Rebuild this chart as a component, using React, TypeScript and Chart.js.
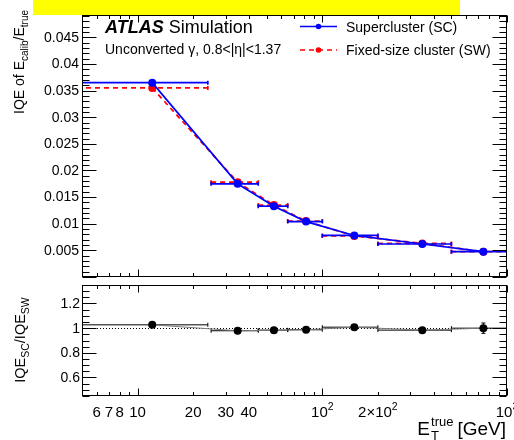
import React, { useEffect, useRef } from "react";
import { Chart, registerables } from "chart.js";

Chart.register(...registerables);

// ---- data ----
const binCenters = [12, 34.8, 54.7, 81.7, 149, 348, 745];
const binLow = [3, 25, 45, 65, 100, 200, 500];
const binHigh = [24, 45, 65, 100, 200, 500, 1000];
const iqeSC = [0.0365, 0.0175, 0.0133, 0.0104, 0.0078, 0.0062, 0.00475];
const iqeSW = [0.0355, 0.0178, 0.0135, 0.0105, 0.0077, 0.0063, 0.00475];
const ratio = [1.027, 0.979, 0.984, 0.987, 1.008, 0.984, 1.0];
const ratioErr = [0.004, 0.004, 0.004, 0.004, 0.005, 0.006, 0.042];

const topYTickValues = [0.005, 0.01, 0.015, 0.02, 0.025, 0.03, 0.035, 0.04, 0.045];
const topYTickLabels = ["0.005", "0.01", "0.015", "0.02", "0.025", "0.03", "0.035", "0.04", "0.045"];
const ratioYTickValues = [0.6, 0.8, 1, 1.2];
const ratioYTickLabels = ["0.6", "0.8", "1", "1.2"];
const xTickValues = [6, 7, 8, 10, 20, 30, 40, 100, 200, 1000];
const xTickBase = ["6", "7", "8", "10", "20", "30", "40", "10", "2\u00d710", "10"];
const xTickSup = ["", "", "", "", "", "", "", "2", "2", "3"];

const X_MIN = 5;
const X_MAX = 1000;
const TOP_Y_MIN = 0;
const TOP_Y_MAX = 0.0492;
const RATIO_Y_MIN = 0.45;
const RATIO_Y_MAX = 1.35;

const FONT = '"Liberation Sans", Arial, Helvetica, sans-serif';
const BLUE = "#0000ff";
const RED = "#ff0000";

type Seg = { t: string; size: number; dy?: number; bold?: boolean; italic?: boolean };

function fontOf(s: Seg) {
  return `${s.italic ? "italic " : ""}${s.bold ? "bold " : ""}${s.size}px ${FONT}`;
}

function segsWidth(ctx: CanvasRenderingContext2D, segs: Seg[]) {
  let w = 0;
  for (const s of segs) {
    ctx.font = fontOf(s);
    w += ctx.measureText(s.t).width;
  }
  return w;
}

function drawSegs(ctx: CanvasRenderingContext2D, segs: Seg[], x: number, y: number) {
  let cx = x;
  for (const s of segs) {
    ctx.font = fontOf(s);
    ctx.fillText(s.t, cx, y + (s.dy || 0));
    cx += ctx.measureText(s.t).width;
  }
}

function logTicks(min: number, max: number) {
  const out: { v: number; major: boolean }[] = [];
  for (let d = 0; d <= 3; d++) {
    for (let m = 1; m <= 9; m++) {
      const v = m * Math.pow(10, d);
      if (v >= min - 1e-9 && v <= max + 1e-9) out.push({ v, major: m === 1 });
    }
  }
  return out;
}

function linTicks(min: number, max: number, step: number, majorEvery: number) {
  const out: { v: number; major: boolean }[] = [];
  const n0 = Math.ceil(min / step - 1e-6);
  const n1 = Math.floor(max / step + 1e-6);
  for (let n = n0; n <= n1; n++) out.push({ v: n * step, major: n % majorEvery === 0 });
  return out;
}

function drawFrame(chart: any, yTicks: { v: number; major: boolean }[]) {
  const { ctx, chartArea: a, scales } = chart;
  const xs = scales.x;
  const ys = scales.y;
  const L = Math.round(a.left) + 0.5;
  const R = Math.round(a.right) - 0.5;
  const T = Math.round(a.top) + 0.5;
  const B = Math.round(a.bottom) - 0.5;
  ctx.save();
  ctx.strokeStyle = "#000";
  ctx.lineWidth = 1;
  ctx.setLineDash([]);
  ctx.strokeRect(L, T, R - L, B - T);
  ctx.beginPath();
  for (const t of logTicks(X_MIN, X_MAX)) {
    const px = Math.round(xs.getPixelForValue(t.v)) + 0.5;
    const len = t.major ? 7 : 3.5;
    ctx.moveTo(px, B);
    ctx.lineTo(px, B - len);
    ctx.moveTo(px, T);
    ctx.lineTo(px, T + len);
  }
  for (const t of yTicks) {
    const py = Math.round(ys.getPixelForValue(t.v)) + 0.5;
    const len = t.major ? 14 : 7;
    ctx.moveTo(L, py);
    ctx.lineTo(L + len, py);
    ctx.moveTo(R, py);
    ctx.lineTo(R - len, py);
  }
  ctx.stroke();
  ctx.restore();
}

function drawHorizontalErrors(
  chart: any,
  values: number[],
  color: string,
  dash: number[],
  vErr?: number[]
) {
  const { ctx, chartArea: a, scales } = chart;
  const xs = scales.x;
  const ys = scales.y;
  ctx.save();
  ctx.beginPath();
  ctx.rect(a.left, a.top, a.right - a.left, a.bottom - a.top);
  ctx.clip();
  ctx.strokeStyle = color;
  ctx.lineWidth = color === "#000" ? 1 : 1.7;
  for (let i = 0; i < values.length; i++) {
    const y = ys.getPixelForValue(values[i]);
    const x1 = xs.getPixelForValue(binLow[i]);
    const x2 = xs.getPixelForValue(binHigh[i]);
    ctx.setLineDash(dash);
    ctx.beginPath();
    ctx.moveTo(x1, y);
    ctx.lineTo(x2, y);
    ctx.stroke();
    ctx.setLineDash([]);
    ctx.beginPath();
    ctx.moveTo(x1, y - 2);
    ctx.lineTo(x1, y + 2);
    ctx.moveTo(x2, y - 2);
    ctx.lineTo(x2, y + 2);
    if (vErr) {
      const xc = xs.getPixelForValue(binCenters[i]);
      const yh = ys.getPixelForValue(values[i] + vErr[i]);
      const yl = ys.getPixelForValue(values[i] - vErr[i]);
      ctx.moveTo(xc, yh);
      ctx.lineTo(xc, yl);
      ctx.moveTo(xc - 2, yh);
      ctx.lineTo(xc + 2, yh);
      ctx.moveTo(xc - 2, yl);
      ctx.lineTo(xc + 2, yl);
    }
    ctx.stroke();
  }
  ctx.restore();
}

const topPlugin = {
  id: "topDecor",
  beforeDatasetDraw(chart: any, args: any) {
    if (args.index === 0) drawHorizontalErrors(chart, iqeSC, BLUE, []);
    else drawHorizontalErrors(chart, iqeSW, RED, [5, 4]);
  },
  afterDraw(chart: any) {
    const { ctx, scales } = chart;
    const ys = scales.y;
    drawFrame(chart, linTicks(TOP_Y_MIN, TOP_Y_MAX, 0.001, 5));
    ctx.save();
    ctx.fillStyle = "#000";
    // y tick labels
    ctx.font = `14px ${FONT}`;
    ctx.textAlign = "right";
    ctx.textBaseline = "middle";
    topYTickValues.forEach((v, i) => {
      ctx.fillText(topYTickLabels[i], 79, ys.getPixelForValue(v) + 0.5);
    });
    ctx.textAlign = "left";
    ctx.textBaseline = "alphabetic";

    // y title
    const title: Seg[] = [
      { t: "IQE of E", size: 14 },
      { t: "calib", size: 10, dy: 4 },
      { t: "/E", size: 14 },
      { t: "true", size: 10, dy: 4 },
    ];
    const tw = segsWidth(ctx, title);
    ctx.save();
    ctx.translate(24, 10 + tw);
    ctx.rotate(-Math.PI / 2);
    drawSegs(ctx, title, 0, 0);
    ctx.restore();

    // experiment label
    drawSegs(
      ctx,
      [
        { t: "ATLAS", size: 18, bold: true, italic: true },
        { t: " Simulation", size: 18 },
      ],
      105,
      33
    );
    ctx.font = `14px ${FONT}`;
    ctx.fillText("Unconverted \u03b3, 0.8<|\u03b7|<1.37", 105, 53.5);

    // legend
    const legend = [
      { label: "Supercluster (SC)", color: BLUE, dash: [] as number[], y: 26.5 },
      { label: "Fixed-size cluster (SW)", color: RED, dash: [5, 4], y: 50 },
    ];
    for (const e of legend) {
      ctx.strokeStyle = e.color;
      ctx.lineWidth = 1.7;
      ctx.setLineDash(e.dash);
      ctx.beginPath();
      ctx.moveTo(300, e.y);
      ctx.lineTo(337, e.y);
      ctx.stroke();
      ctx.setLineDash([]);
      ctx.fillStyle = e.color;
      ctx.beginPath();
      ctx.arc(318.5, e.y, 2.8, 0, Math.PI * 2);
      ctx.fill();
      ctx.fillStyle = "#000";
      ctx.font = `14px ${FONT}`;
      ctx.fillText(e.label, 346, e.y + 5);
    }
    ctx.restore();
  },
};

const bottomPlugin = {
  id: "bottomDecor",
  beforeDatasetsDraw(chart: any) {
    const { ctx, chartArea: a, scales } = chart;
    const y = Math.round(scales.y.getPixelForValue(1)) + 0.5;
    ctx.save();
    ctx.strokeStyle = "#000";
    ctx.lineWidth = 1;
    ctx.setLineDash([1, 2]);
    ctx.beginPath();
    ctx.moveTo(a.left, y);
    ctx.lineTo(a.right, y);
    ctx.stroke();
    ctx.restore();
  },
  beforeDatasetDraw(chart: any) {
    drawHorizontalErrors(chart, ratio, "#000", [], ratioErr);
  },
  afterDraw(chart: any) {
    const { ctx, chartArea: a, scales } = chart;
    const xs = scales.x;
    const ys = scales.y;
    drawFrame(chart, linTicks(RATIO_Y_MIN, RATIO_Y_MAX, 0.05, 4));
    ctx.save();
    ctx.fillStyle = "#000";
    ctx.font = `14px ${FONT}`;
    ctx.textAlign = "right";
    ctx.textBaseline = "middle";
    ratioYTickValues.forEach((v, i) => {
      ctx.fillText(ratioYTickLabels[i], 80, ys.getPixelForValue(v) + 0.5);
    });
    ctx.textAlign = "left";
    ctx.textBaseline = "alphabetic";

    // x tick labels
    const base = a.bottom + 20.5;
    xTickValues.forEach((v, i) => {
      const segs: Seg[] = [{ t: xTickBase[i], size: 15 }];
      if (xTickSup[i]) segs.push({ t: xTickSup[i], size: 10.5, dy: -7 });
      const w = segsWidth(ctx, segs);
      drawSegs(ctx, segs, xs.getPixelForValue(v) - w / 2, base);
    });

    // x title
    ctx.font = `19px ${FONT}`;
    const wUnit = ctx.measureText("[GeV]").width;
    ctx.font = `13px ${FONT}`;
    const wSup = ctx.measureText("true").width;
    ctx.font = `19px ${FONT}`;
    const wE = ctx.measureText("E").width;
    const xEnd = a.right - 1;
    const x0 = xEnd - wUnit - 5 - wSup - wE;
    const yb = 435 - 281;
    ctx.fillText("E", x0, yb);
    ctx.fillText("[GeV]", xEnd - wUnit, yb);
    ctx.font = `13px ${FONT}`;
    ctx.fillText("true", x0 + wE + 1, yb - 9);
    ctx.fillText("T", x0 + wE + 1, yb + 5);

    // y title
    const title: Seg[] = [
      { t: "IQE", size: 14.5 },
      { t: "SC", size: 10.5, dy: 4 },
      { t: "/IQE", size: 14.5 },
      { t: "SW", size: 10.5, dy: 4 },
    ];
    const tw = segsWidth(ctx, title);
    ctx.save();
    ctx.translate(25, 340 - 281 + tw / 2);
    ctx.rotate(-Math.PI / 2);
    drawSegs(ctx, title, 0, 0);
    ctx.restore();
    ctx.restore();
  },
};

function topConfig(): any {
  return {
    type: "scatter",
    data: {
      datasets: [
        {
          label: "Supercluster (SC)",
          data: binCenters.map((x, i) => ({ x, y: iqeSC[i] })),
          showLine: true,
          borderColor: BLUE,
          backgroundColor: BLUE,
          borderWidth: 1.7,
          pointRadius: 4,
          pointBorderWidth: 0,
          pointBackgroundColor: BLUE,
          tension: 0,
        },
        {
          label: "Fixed-size cluster (SW)",
          data: binCenters.map((x, i) => ({ x, y: iqeSW[i] })),
          showLine: true,
          borderColor: RED,
          backgroundColor: RED,
          borderDash: [5, 4],
          borderWidth: 1.7,
          pointRadius: 4,
          pointBorderWidth: 0,
          pointBackgroundColor: RED,
          tension: 0,
        },
      ],
    },
    options: {
      responsive: false,
      animation: false,
      events: [],
      layout: { padding: { left: 82, right: 7, top: 15, bottom: 3.5 } },
      plugins: { legend: { display: false }, tooltip: { enabled: false } },
      scales: {
        x: { type: "logarithmic", min: X_MIN, max: X_MAX, display: false },
        y: { type: "linear", min: TOP_Y_MIN, max: TOP_Y_MAX, display: false },
      },
    },
    plugins: [topPlugin],
  };
}

function bottomConfig(): any {
  return {
    type: "scatter",
    data: {
      datasets: [
        {
          label: "SC / SW",
          data: binCenters.map((x, i) => ({ x, y: ratio[i] })),
          showLine: true,
          borderColor: "#7a7a7a",
          borderWidth: 1,
          pointRadius: 4,
          pointBorderWidth: 0,
          pointBackgroundColor: "#000",
          tension: 0,
        },
      ],
    },
    options: {
      responsive: false,
      animation: false,
      events: [],
      layout: { padding: { left: 82, right: 7, top: 2, bottom: 44 } },
      plugins: { legend: { display: false }, tooltip: { enabled: false } },
      scales: {
        x: { type: "logarithmic", min: X_MIN, max: X_MAX, display: false },
        y: { type: "linear", min: RATIO_Y_MIN, max: RATIO_Y_MAX, display: false },
      },
    },
    plugins: [bottomPlugin],
  };
}

export default function App() {
  const topRef = useRef<HTMLCanvasElement>(null);
  const botRef = useRef<HTMLCanvasElement>(null);

  useEffect(() => {
    const c1 = new Chart(topRef.current as HTMLCanvasElement, topConfig());
    const c2 = new Chart(botRef.current as HTMLCanvasElement, bottomConfig());
    return () => {
      c1.destroy();
      c2.destroy();
    };
  }, []);

  return (
    <div style={{ position: "absolute", left: 0, top: 0, width: 514, height: 440, background: "#fff" }}>
      <canvas ref={topRef} width={514} height={281} style={{ position: "absolute", left: 0, top: 0 }} />
      <canvas ref={botRef} width={514} height={159} style={{ position: "absolute", left: 0, top: 281 }} />
      <div style={{ position: "absolute", left: 33, top: 0, width: 427, height: 15, background: "#ffff00" }} />
    </div>
  );
}
